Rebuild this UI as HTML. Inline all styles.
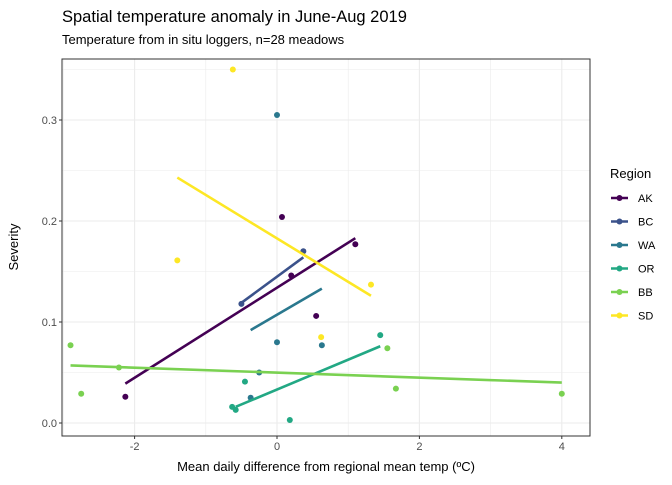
<!DOCTYPE html>
<html><head><meta charset="utf-8"><style>body{margin:0;background:#fff}svg{font-family:"Liberation Sans",sans-serif}</style></head>
<body>
<svg id="c" width="672" height="480"></svg>
<script>
const regions=["AK","BC","WA","OR","BB","SD"];
const colors=["#440154","#3b528b","#2a788e","#22a884","#7ad151","#fde725"];
const ptX={AK:[-2.13,0.07,0.2,0.55,1.1],BC:[-0.5,0.37],WA:[0,0,0.63,-0.25,-0.37],OR:[-0.63,-0.58,-0.45,0.18,1.45],BB:[-2.9,-2.75,-2.22,1.55,1.67,4.0],SD:[-0.62,-1.4,0.62,1.32]};
const ptY={AK:[0.026,0.204,0.146,0.106,0.177],BC:[0.118,0.170],WA:[0.305,0.080,0.077,0.050,0.025],OR:[0.016,0.013,0.041,0.003,0.087],BB:[0.077,0.029,0.055,0.074,0.034,0.029],SD:[0.350,0.161,0.085,0.137]};
const lineX0=[-2.13,-0.5,-0.37,-0.58,-2.9,-1.4];
const lineX1=[1.1,0.37,0.63,1.45,4.0,1.32];
const lineY0=[0.039,0.119,0.092,0.016,0.057,0.243];
const lineY1=[0.183,0.164,0.133,0.076,0.040,0.126];
const xTicks=[-2,0,2,4];
const yTicks=[0,0.1,0.2,0.3];
const xMinor=[-3,-1,1,3];
const yMinor=[0.05,0.15,0.25,0.35];
const L=62,R=590,T=59,B=436;
const xs=v=>277+v*71.2, ys=v=>423-v*1010;
const svg=document.getElementById('c');
function add(tag,at,txt){const e=document.createElementNS('http://www.w3.org/2000/svg',tag);for(const k in at)e.setAttribute(k,at[k]);if(txt!=null)e.textContent=txt;svg.appendChild(e);return e;}
let e;
e=add('rect',{x:L,y:T,width:R-L,height:B-T,fill:'#fff'});


xMinor.forEach(v=>{e=add('line',{x1:xs(v),x2:xs(v),y1:T,y2:B,stroke:'#ebebeb','stroke-width':0.6});});
yMinor.forEach(v=>{e=add('line',{x1:L,x2:R,y1:ys(v),y2:ys(v),stroke:'#ebebeb','stroke-width':0.6});});
xTicks.forEach(v=>{e=add('line',{x1:xs(v),x2:xs(v),y1:T,y2:B,stroke:'#ebebeb','stroke-width':1.1});
e=add('line',{x1:xs(v),x2:xs(v),y1:B,y2:B+3,stroke:'#333','stroke-width':1});
e=add('text',{x:xs(v),y:B+14,'font-size':11,fill:'#4d4d4d','text-anchor':'middle'},v<0?'-'+(-v):String(v));});
yTicks.forEach(v=>{e=add('line',{x1:L,x2:R,y1:ys(v),y2:ys(v),stroke:'#ebebeb','stroke-width':1.1});
e=add('line',{x1:L-3,x2:L,y1:ys(v),y2:ys(v),stroke:'#333','stroke-width':1});
e=add('text',{x:L-5,y:ys(v)+4,'font-size':11,fill:'#4d4d4d','text-anchor':'end'},v.toFixed(1));});
regions.forEach((r,i)=>{ptX[r].forEach((x,j)=>{e=add('circle',{cx:xs(x),cy:ys(ptY[r][j]),r:3,fill:colors[i]});});});
regions.forEach((r,i)=>{e=add('line',{x1:xs(lineX0[i]),y1:ys(lineY0[i]),x2:xs(lineX1[i]),y2:ys(lineY1[i]),stroke:colors[i],'stroke-width':2.6});});
e=add('rect',{x:L,y:T,width:R-L,height:B-T,fill:'none',stroke:'#333','stroke-width':1});


e=add('text',{x:610,y:178,'font-size':13,fill:'#000'},'Region');


regions.forEach((r,i)=>{const y=198+i*23.5;
e=add('line',{x1:611,x2:628,y1:y,y2:y,stroke:colors[i],'stroke-width':2.6});
e=add('circle',{cx:619.5,cy:y,r:3,fill:colors[i]});
e=add('text',{x:638,y:y+4,'font-size':11,fill:'#000'},r);});
e=add('text',{x:62,y:22,'font-size':16.5,fill:'#000'},'Spatial temperature anomaly in June-Aug 2019');


e=add('text',{x:62,y:44,'font-size':13,fill:'#000'},'Temperature from in situ loggers, n=28 meadows');


e=add('text',{x:326,y:471,'font-size':13,fill:'#000','text-anchor':'middle'},'Mean daily difference from regional mean temp (ºC)');


e=add('text',{x:0,y:0,'font-size':13,fill:'#000','text-anchor':'middle',transform:'translate(18,247) rotate(-90)'},'Severity');


</script>
</body></html>
